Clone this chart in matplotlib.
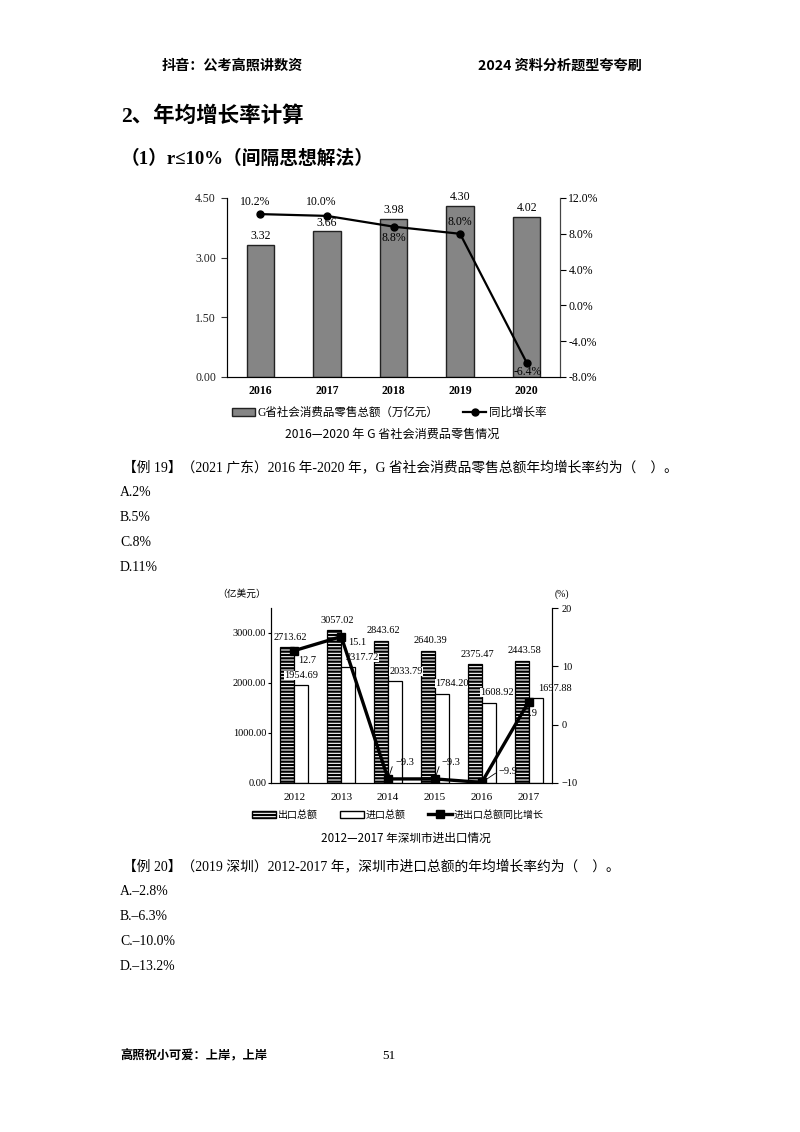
import numpy as np
import matplotlib.pyplot as plt
from matplotlib.patches import Patch
from matplotlib.lines import Line2D

SERIF = ['Liberation Serif', 'Noto Sans CJK SC']
SANS = ['Noto Sans CJK SC', 'DejaVu Sans']
plt.rcParams['font.family'] = SERIF
plt.rcParams['axes.unicode_minus'] = True
plt.rcParams['hatch.linewidth'] = 1.6

# chart 1 data
years1 = ['2016', '2017', '2018', '2019', '2020']
retail = [3.32, 3.66, 3.98, 4.30, 4.02]
growth1 = [10.2, 10.0, 8.8, 8.0, -6.4]
# offsets (points) of the growth labels
g1_off = [(-4, 9), (-4, 10), (0, -8.5), (0, 8.5), (1, -6.5)]

# chart 2 data
years2 = ['2012', '2013', '2014', '2015', '2016', '2017']
exports = [2713.62, 3057.02, 2843.62, 2640.39, 2375.47, 2443.58]
imports = [1954.69, 2317.72, 2033.79, 1784.20, 1608.92, 1697.88]
growth2 = [12.7, 15.1, -9.3, -9.3, -9.9, 3.9]
# x offsets (points) of the import labels
imp_dx = [0, 10, 8, 7, 6, 14]

W, H = 800, 1132


def P(x, y):
    return x / W, 1 - y / H


fig = plt.figure(figsize=(8, 11.32), dpi=100)

# page text
fig.text(*P(162, 66), '抖音：公考高照讲数资', family=SANS, fontsize=10.2, weight='bold', va='center')
fig.text(*P(478, 66), '2024 资料分析题型夸夸刷', family=SANS, fontsize=10.2, weight='bold', va='center')
fig.text(*P(121, 117), '2、年均增长率计算', fontsize=15.5, weight='bold', va='center')
fig.text(*P(121, 159), '（1）r≤10%（间隔思想解法）', fontsize=13.5, weight='bold', va='center')

q1 = ['【例 19】（2021 广东）2016 年-2020 年，G 省社会消费品零售总额年均增长率约为（    ）。',
      'A.2%', 'B.5%', 'C.8%', 'D.11%']
for i, s in enumerate(q1):
    fig.text(*P(123 if i == 0 else 120, 467 + i * 25.1), s, fontsize=9.9, va='center')

q2 = ['【例 20】（2019 深圳）2012-2017 年，深圳市进口总额的年均增长率约为（    ）。',
      'A.–2.8%', 'B.–6.3%', 'C.–10.0%', 'D.–13.2%']
for i, s in enumerate(q2):
    fig.text(*P(123 if i == 0 else 120, 866 + i * 25.2), s, fontsize=9.9, va='center')

fig.text(*P(120, 1056), '高照祝小可爱：上岸，上岸', family=SANS, fontsize=8.8, weight='bold', va='center')
fig.text(*P(382, 1056), '51', fontsize=9.5, va='center')

# ---------------- chart 1 ----------------
l, b = P(227, 377)
r, t = P(560, 198)
ax1 = fig.add_axes([l, b, r - l, t - b])
x1 = np.arange(len(years1))
ax1.bar(x1, retail, width=0.41, color='#858585', edgecolor='#222222', linewidth=1.0, zorder=2)
ax1.set_xlim(-0.5, len(years1) - 0.5)
ax1.set_ylim(0, 4.5)
ax1.set_yticks([0, 1.5, 3.0, 4.5])
ax1.set_yticklabels(['%.2f' % v for v in [0, 1.5, 3.0, 4.5]])
ax1.set_xticks(x1)
ax1.set_xticklabels(years1, weight='bold')
ax1.tick_params(axis='x', length=0, pad=6, labelsize=8.5)
ax1.tick_params(axis='y', length=4, labelsize=8.5, pad=4, colors='#333333', labelcolor='#222222')
ax1.spines['top'].set_visible(False)
for sp in ['left', 'bottom', 'right']:
    ax1.spines[sp].set_color('#444444')
for xi, v in zip(x1, retail):
    ax1.annotate('%.2f' % v, (xi, v), xytext=(0, 2), textcoords='offset points',
                 ha='center', va='bottom', fontsize=8.5)

ax1r = ax1.twinx()
ax1r.plot(x1, growth1, color='black', lw=1.6, marker='o', ms=5, zorder=3)
ax1r.set_ylim(-8, 12)
ticks = [-8, -4, 0, 4, 8, 12]
ax1r.set_yticks(ticks)
ax1r.set_yticklabels(['%.1f%%' % v for v in ticks])
ax1r.tick_params(axis='y', length=4, labelsize=8.5, pad=2)
ax1r.spines['top'].set_visible(False)
ax1r.spines['right'].set_color('#444444')
for xi, v, off in zip(x1, growth1, g1_off):
    ax1r.annotate('%.1f%%' % v, (xi, v), xytext=off, textcoords='offset points',
                  ha='center', va='center', fontsize=8.5)

handles1 = [Patch(facecolor='#858585', edgecolor='#222222'),
            Line2D([0], [0], color='black', lw=1.6, marker='o', ms=5)]
fig.legend(handles1, ['G省社会消费品零售总额（万亿元）', '同比增长率'],
           loc='center', bbox_to_anchor=P(389, 413), ncol=2, frameon=False,
           fontsize=8.3, handlelength=2.0, handletextpad=0.2, columnspacing=2.2)
fig.text(*P(392, 434), '2016—2020 年 G 省社会消费品零售情况', family=SANS,
         fontsize=8.7, ha='center', va='center')

# ---------------- chart 2 ----------------
l, b = P(271, 783)
r, t = P(552, 608)
ax2 = fig.add_axes([l, b, r - l, t - b])
x2 = np.arange(len(years2))
bw = 0.3
ax2.bar(x2 - bw / 2, exports, width=bw, color='white', edgecolor='black', hatch='-----',
        linewidth=0.9, zorder=2)
ax2.bar(x2 + bw / 2, imports, width=bw, color='white', edgecolor='black', linewidth=0.9, zorder=2)
ax2.set_xlim(-0.5, len(years2) - 0.5)
ax2.set_ylim(0, 3500)
ax2.set_yticks([0, 1000, 2000, 3000])
ax2.set_yticklabels(['%.2f' % v for v in [0, 1000, 2000, 3000]])
ax2.set_xticks(x2)
ax2.set_xticklabels(years2)
ax2.tick_params(axis='x', length=0, pad=7, labelsize=8)
ax2.tick_params(axis='y', length=2, labelsize=7.5, pad=1.5)
ax2.spines['top'].set_visible(False)
for xi, v in zip(x2, exports):
    ax2.annotate('%.2f' % v, (xi - bw / 2, v), xytext=(2, 4), textcoords='offset points',
                 ha='center', va='bottom', fontsize=7.5)
for xi, v, dx in zip(x2, imports, imp_dx):
    ax2.annotate('%.2f' % v, (xi + bw / 2, v), xytext=(dx, 4), textcoords='offset points',
                 ha='center', va='bottom', fontsize=7.5, zorder=4,
                 bbox=dict(boxstyle='square,pad=0', facecolor='white', edgecolor='none'))

ax2r = ax2.twinx()
ax2r.plot(x2, growth2, color='black', lw=2.4, marker='s', ms=5.5, zorder=3)
ax2r.set_ylim(-10, 20)
ax2r.set_yticks([-10, 0, 10, 20])
ax2r.tick_params(axis='y', length=4, labelsize=7.5, pad=3)
ax2r.spines['top'].set_visible(False)

lab2 = ['%.1f' % v if v > 0 else '−%.1f' % abs(v) for v in growth2]
ax2r.annotate(lab2[0], (x2[0], growth2[0]), xytext=(9, -7), textcoords='offset points',
              ha='center', va='center', fontsize=7.5)
ax2r.annotate(lab2[1], (x2[1], growth2[1]), xytext=(5, -4), textcoords='offset points',
              ha='left', va='center', fontsize=7.5)
for i in (2, 3):
    ax2r.annotate(lab2[i], (x2[i], growth2[i]), xytext=(5, 11.5), textcoords='offset points',
                  ha='left', va='center', fontsize=7.5,
                  arrowprops=dict(arrowstyle='-', lw=0.6, color='black', relpos=(0, 1),
                                  shrinkA=0, shrinkB=2))
ax2r.annotate(lab2[4], (x2[4], growth2[4]), xytext=(12, 8), textcoords='offset points',
              ha='left', va='center', fontsize=7.5,
              arrowprops=dict(arrowstyle='-', lw=0.6, color='black', relpos=(0, 0.5),
                              shrinkA=0, shrinkB=2))
ax2r.annotate(lab2[5], (x2[5], growth2[5]), xytext=(2, -8), textcoords='offset points',
              ha='center', va='center', fontsize=7.5)

fig.text(*P(242, 594), '（亿美元）', fontsize=7, ha='center', va='center')
fig.text(*P(562, 594), '(%)', fontsize=7, ha='center', va='center')

handles2 = [Patch(facecolor='white', edgecolor='black', hatch='-----'),
            Patch(facecolor='white', edgecolor='black'),
            Line2D([0], [0], color='black', lw=2.4, marker='s', ms=5.5)]
fig.legend(handles2, ['出口总额', '进口总额', '进出口总额同比增长'],
           loc='center', bbox_to_anchor=P(398, 815), ncol=3, frameon=False,
           fontsize=7.2, handlelength=2.4, handletextpad=0.2, columnspacing=2.2)
fig.text(*P(406, 838), '2012—2017 年深圳市进出口情况', family=SANS,
         fontsize=8.4, ha='center', va='center')

fig.savefig('out.png', dpi=100)
